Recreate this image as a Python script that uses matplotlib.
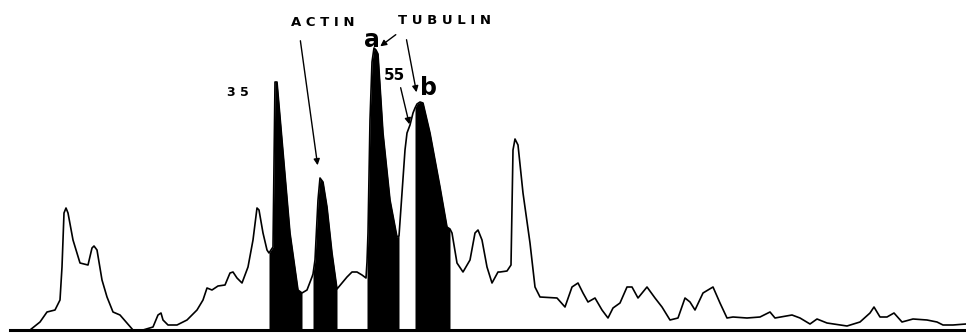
import numpy as np
import matplotlib
matplotlib.use("Agg")
import matplotlib.pyplot as plt

# densitometer trace: position along gel, optical density
pos = [30, 40, 47, 55, 60, 62, 64, 66, 68, 73, 80, 88, 92, 94, 97, 102, 107, 113, 120, 127,
       133, 143, 153, 158, 161, 163, 168, 177, 187, 197, 203, 207, 212, 218, 225, 230, 233, 237,
       242, 248, 253, 257, 259, 263, 267, 269, 273, 275, 277, 282, 290, 298, 302, 307, 312, 313,
       315, 318, 320, 323, 327, 332, 337, 342, 347, 352, 357, 362, 366, 367, 368, 370, 372, 374,
       376, 378, 383, 390, 397, 399, 402, 405, 407, 410, 413, 415, 417, 420, 423, 430, 440, 447,
       450, 452, 457, 463, 470, 475, 478, 482, 487, 492, 498, 500, 507, 511, 513, 515, 518, 523,
       530, 535, 540, 557, 565, 572, 578, 583, 588, 595, 602, 608, 613, 620, 627, 632, 638, 647,
       655, 662, 670, 678, 685, 690, 695, 703, 713, 720, 727, 733, 747, 760, 770, 775, 792, 800,
       810, 817, 827, 847, 860, 870, 874, 880, 887, 894, 902, 913, 927, 937, 943, 953, 966]
ypix = [330, 322, 312, 310, 300, 267, 213, 208, 213, 240, 263, 265, 248, 246, 250, 280, 297, 312, 315, 323,
        330, 330, 327, 315, 313, 320, 325, 325, 320, 310, 300, 288, 290, 286, 285, 273, 272, 278,
        283, 267, 240, 208, 210, 233, 250, 253, 247, 82, 82, 140, 233, 290, 293, 290, 277, 274,
        260, 200, 178, 182, 207, 253, 289, 283, 277, 272, 272, 275, 278, 262, 233, 120, 62, 48,
        50, 54, 133, 200, 237, 236, 193, 150, 133, 125, 113, 108, 104, 102, 103, 133, 187, 227,
        229, 233, 263, 272, 260, 233, 230, 240, 267, 283, 272, 272, 271, 265, 150, 139, 145, 193,
        243, 287, 297, 298, 307, 287, 283, 293, 302, 298, 310, 318, 308, 303, 287, 287, 298, 287,
        298, 307, 320, 318, 298, 302, 310, 293, 287, 303, 318, 317, 318, 317, 312, 318, 315, 318,
        324, 319, 323, 326, 322, 313, 307, 317, 317, 313, 322, 319, 320, 322, 325, 325, 324]
density = [330 - v for v in ypix]

# shaded bands: 35k, actin, tubulin a, tubulin b
bands = [(269, 302), (313, 337), (367, 399), (415, 450)]

x = np.array(pos)
y = np.array(density)

fig = plt.figure(figsize=(9.66, 3.33), dpi=100)
ax = fig.add_axes([0, 0, 1, 1])
ax.set_xlim(0, 966)
ax.set_ylim(-3, 330)
ax.axis("off")

ax.plot(x, y, color="black", lw=1.2)
ax.plot([10, 966], [0, 0], color="black", lw=2.2)
for lo, hi in bands:
    ax.fill_between(x, 0, y, where=(x >= lo) & (x <= hi), color="black", lw=0)

txt = dict(color="black", fontweight="bold", family="DejaVu Sans", ha="center", va="center")
ax.text(323, 307, "A C T I N", fontsize=9.5, **txt)
ax.text(445, 309, "T U B U L I N", fontsize=9.5, **txt)
ax.text(238, 238, "3 5", fontsize=9, **txt)
ax.text(394, 254, "55", fontsize=11, **txt)
ax.text(372, 290, "a", fontsize=17, **txt)
ax.text(429, 242, "b", fontsize=17, **txt)

arr = dict(arrowstyle="-|>", color="black", lw=1.0, mutation_scale=9)
ax.annotate("", xy=(318, 162), xytext=(300, 292), arrowprops=arr)
ax.annotate("", xy=(378, 282), xytext=(398, 297), arrowprops=arr)
ax.annotate("", xy=(417, 235), xytext=(406, 293), arrowprops=arr)
ax.annotate("", xy=(410, 203), xytext=(400, 245), arrowprops=arr)

fig.savefig("out.png", dpi=100)
